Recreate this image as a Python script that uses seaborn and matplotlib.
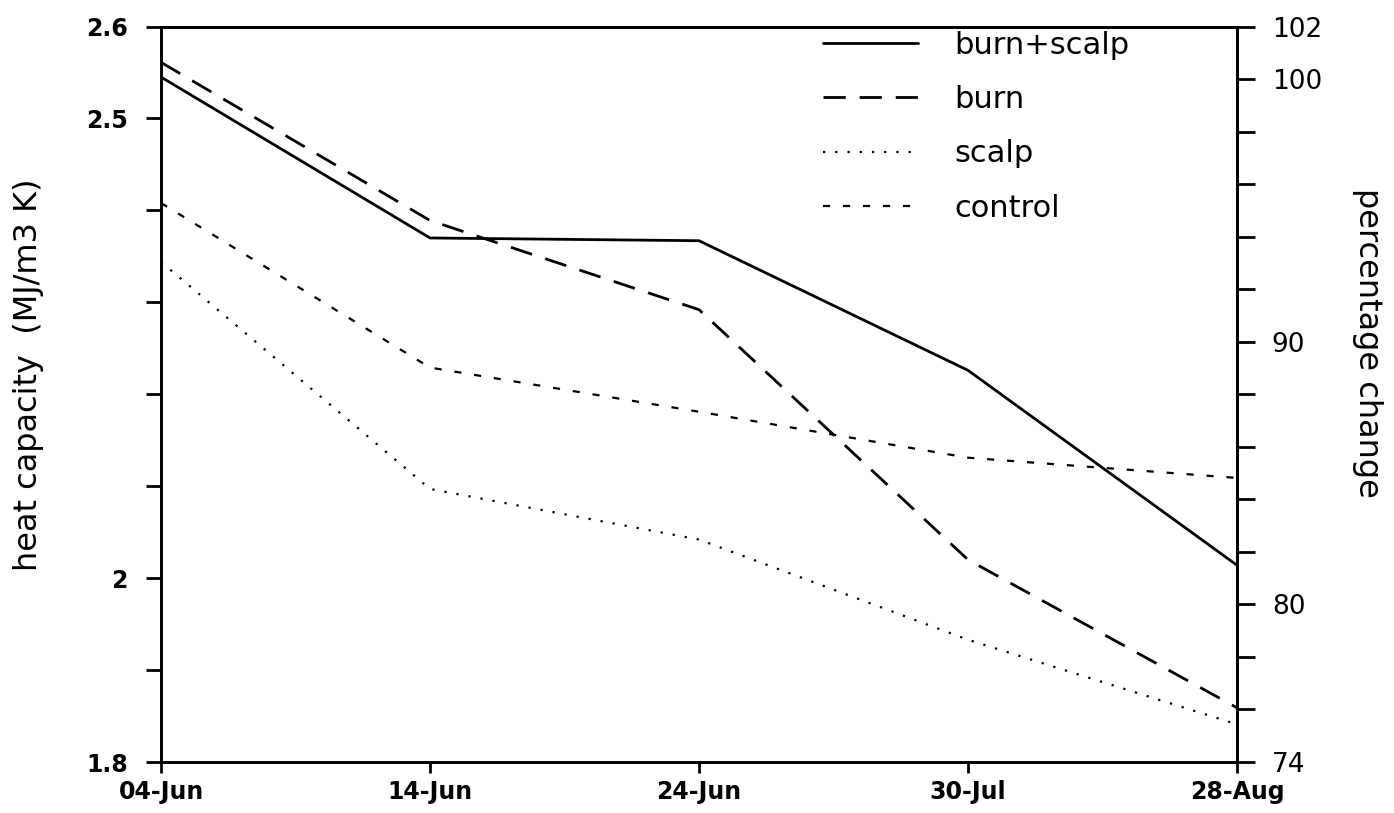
import matplotlib
matplotlib.use("Agg")
import matplotlib.pyplot as plt
import seaborn as sns
import pandas as pd
from matplotlib.ticker import FixedLocator, FixedFormatter

sns.set_theme(style="white")
plt.rcParams['font.family'] = ['DejaVu Sans']
plt.rcParams['text.color'] = 'black'
plt.rcParams['axes.labelcolor'] = 'black'
plt.rcParams['xtick.color'] = 'black'
plt.rcParams['ytick.color'] = 'black'

dates = ["04-Jun", "14-Jun", "24-Jun", "30-Jul", "28-Aug"]
burn_scalp = [2.545, 2.370, 2.367, 2.226, 2.014]
burn = [2.561, 2.389, 2.292, 2.020, 1.859]
scalp = [2.344, 2.097, 2.042, 1.933, 1.841]
control = [2.408, 2.229, 2.181, 2.131, 2.109]

left_ticks = [1.8, 1.9, 2.0, 2.1, 2.2, 2.3, 2.4, 2.5, 2.6]
left_labels = ["1.8", "", "2", "", "", "", "", "2.5", "2.6"]
right_ticks = list(range(74, 103, 2))
right_labels = ["74", "", "", "80", "", "", "", "", "90", "", "", "", "", "100", "102"]

series = [
    ("burn+scalp", burn_scalp, "-", 2.0),
    ("burn", burn, (0, (8, 5)), 2.0),
    ("scalp", scalp, (0, (1, 4.5)), 1.6),
    ("control", control, (0, (3.2, 5.8)), 1.6),
]

fig = plt.figure(figsize=(13.94, 8.13), dpi=100)
ax = fig.add_axes([0.1155, 0.0627, 0.7719, 0.9047])

for name, vals, ls, lw in series:
    df = pd.DataFrame({"date": dates, "value": vals})
    sns.lineplot(data=df, x="date", y="value", ax=ax, color="black",
                 linestyle=ls, linewidth=lw, label=name, sort=False)

ax.set_xlim(0, len(dates) - 1)
ax.set_ylim(1.8, 2.6)
ax.yaxis.set_major_locator(FixedLocator(left_ticks))
ax.yaxis.set_major_formatter(FixedFormatter(left_labels))
ax.set_xticks(range(len(dates)))
ax.set_xticklabels(dates, fontsize=17, fontweight="bold", color="black")
for t in ax.get_yticklabels():
    t.set_fontsize(17)
    t.set_fontweight("bold")
    t.set_color("black")
ax.set_xlabel("")
ax.set_ylabel("heat capacity  (MJ/m3 K)", fontsize=23, color="black",
              va="center", ha="center")
ax.yaxis.set_label_coords(-0.1227, 0.526)
ax.tick_params(axis="y", direction="out", length=11, width=2, color="black", pad=13)
ax.tick_params(axis="x", direction="out", length=8, width=2, color="black", pad=5)
ax.tick_params(left=True, bottom=True)
for s in ax.spines.values():
    s.set_color("black")
    s.set_linewidth(2)

ax2 = ax.twinx()
ax2.set_ylim(74, 102)
ax2.yaxis.set_major_locator(FixedLocator(right_ticks))
ax2.yaxis.set_major_formatter(FixedFormatter(right_labels))
ax2.tick_params(axis="y", direction="out", length=13, width=2, color="black", pad=12,
                labelsize=19, labelcolor="black", right=True)
ax2.set_ylabel("percentage change", fontsize=23, rotation=270, color="black",
               va="center", ha="center")
ax2.yaxis.set_label_coords(1.121, 0.570)
for s in ax2.spines.values():
    s.set_color("black")
    s.set_linewidth(2)
ax2.grid(False)
ax.grid(False)

leg = ax.legend(loc="upper left", bbox_to_anchor=(0.6065, 1.007), frameon=False,
                fontsize=22, handlelength=3.1, handletextpad=1.2,
                labelspacing=0.83, borderaxespad=0.0, borderpad=0.3)
for line in leg.get_lines():
    line.set_color("black")
for t in leg.get_texts():
    t.set_color("black")

fig.savefig("out.png", dpi=100)
